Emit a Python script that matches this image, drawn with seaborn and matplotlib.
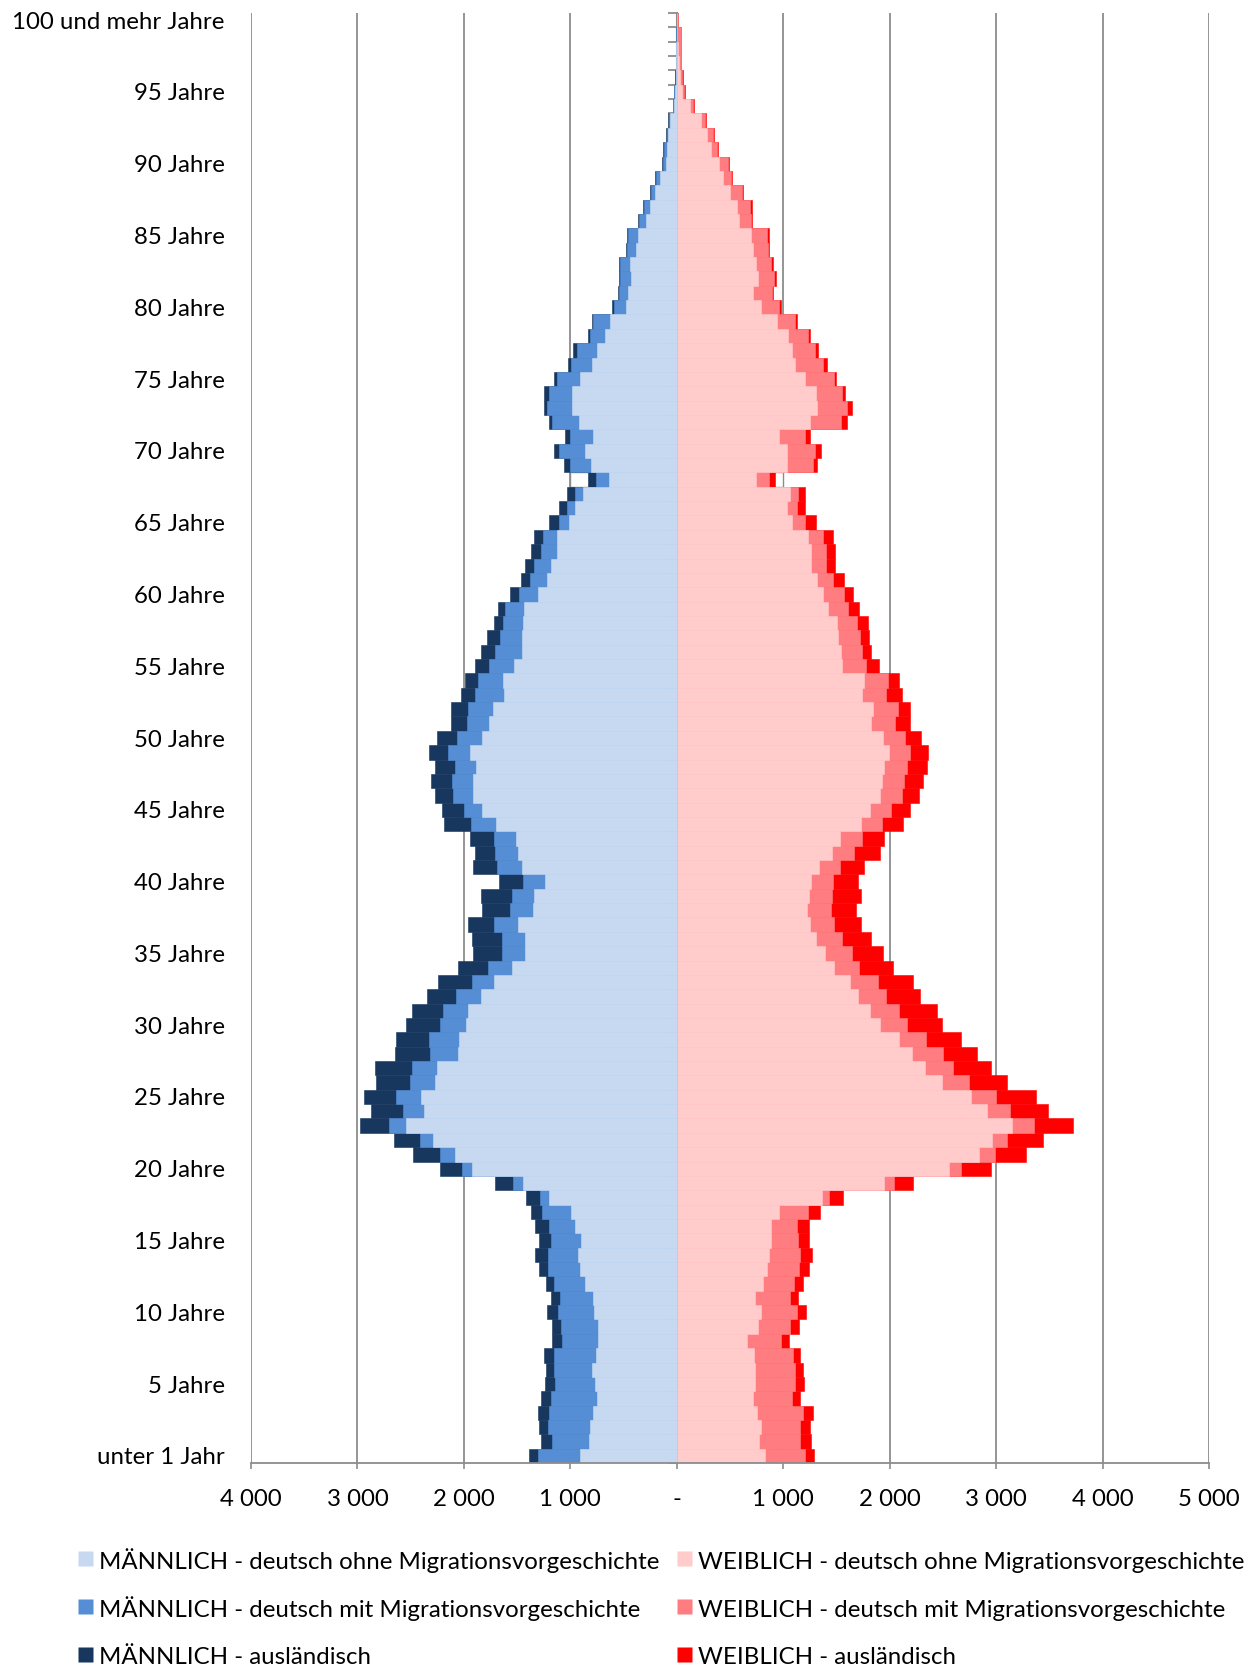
import numpy as np
import matplotlib
matplotlib.use("Agg")
import matplotlib.pyplot as plt
import seaborn as sns
from matplotlib.lines import Line2D

ages = np.arange(0, 101)

m_deutsch = [911, 825, 815, 788, 752, 770, 797, 761, 743, 743,
             779, 788, 866, 911, 929, 902, 957, 993, 1203, 1449,
             1927, 2087, 2292, 2547, 2378, 2405, 2268, 2251, 2053, 2044,
             1979, 1958, 1837, 1716, 1544, 1423, 1423, 1488, 1354, 1337,
             1236, 1450, 1488, 1509, 1697, 1827, 1911, 1911, 1882, 1940,
             1827, 1762, 1724, 1625, 1636, 1529, 1452, 1452, 1444, 1433,
             1303, 1218, 1180, 1121, 1128, 1017, 952, 884, 640, 808,
             859, 783, 923, 981, 988, 905, 798, 751, 677, 630,
             480, 459, 433, 443, 386, 366, 292, 255, 200, 156,
             103, 94, 78, 66, 25, 19, 10, 6, 4, 2, 1]
m_migration = [396, 350, 397, 415, 433, 374, 360, 396, 337, 346,
               337, 310, 291, 301, 283, 283, 246, 274, 82, 91,
               91, 141, 123, 159, 196, 237, 237, 241, 263, 280,
               250, 237, 233, 207, 228, 216, 216, 228, 209, 210,
               206, 235, 218, 205, 235, 176, 189, 197, 197, 206,
               235, 207, 234, 268, 230, 233, 253, 207, 188, 180,
               176, 161, 161, 151, 133, 93, 76, 75, 122, 191,
               251, 216, 252, 234, 209, 216, 198, 188, 141, 155,
               114, 81, 97, 90, 77, 90, 67, 57, 45, 41,
               22, 28, 16, 9, 9, 3, 2, 1, 1, 1, 0]
m_auslaender = [83, 101, 82, 105, 91, 95, 73, 91, 95, 86,
                105, 87, 73, 82, 123, 109, 132, 104, 132, 168,
                210, 250, 246, 274, 301, 301, 319, 341, 327, 311,
                311, 289, 276, 319, 281, 271, 284, 250, 264, 289,
                226, 226, 188, 226, 252, 201, 176, 197, 197, 180,
                189, 150, 161, 134, 123, 131, 134, 123, 84, 65,
                88, 85, 84, 101, 83, 94, 82, 69, 68, 65,
                40, 47, 29, 35, 46, 29, 23, 37, 17, 13,
                16, 13, 17, 7, 13, 13, 7, 7, 8, 10,
                10, 6, 6, 6, 4, 3, 1, 1, 0, 0, 0]

w_deutsch = [829, 770, 793, 752, 715, 733, 733, 724, 661, 761,
             793, 733, 811, 847, 866, 884, 884, 961, 1362, 1945,
             2556, 2838, 2961, 3148, 2916, 2765, 2492, 2333, 2212, 2087,
             1910, 1815, 1703, 1630, 1479, 1393, 1311, 1255, 1224, 1245,
             1262, 1337, 1459, 1534, 1731, 1815, 1911, 1928, 1949, 1995,
             1936, 1824, 1843, 1739, 1762, 1548, 1540, 1513, 1506, 1421,
             1372, 1318, 1261, 1265, 1236, 1085, 1038, 1060, 740, 1031,
             1031, 956, 1254, 1322, 1312, 1207, 1107, 1080, 1043, 939,
             788, 714, 761, 741, 714, 694, 584, 563, 502, 432,
             397, 322, 285, 228, 125, 53, 28, 19, 12, 5, 3]
w_migration = [374, 387, 364, 433, 365, 374, 374, 369, 318, 300,
               337, 328, 292, 301, 291, 255, 246, 269, 64, 96,
               114, 151, 142, 210, 214, 233, 251, 263, 289, 255,
               255, 272, 263, 263, 233, 254, 241, 224, 226, 214,
               205, 197, 205, 205, 197, 197, 206, 205, 214, 197,
               210, 226, 234, 230, 227, 234, 203, 207, 187, 192,
               199, 153, 141, 140, 133, 122, 87, 83, 130, 245,
               263, 244, 291, 281, 244, 266, 271, 214, 188, 168,
               168, 181, 148, 141, 144, 151, 117, 124, 113, 78,
               82, 57, 53, 38, 25, 19, 19, 22, 25, 30, 8]
w_auslaender = [86, 100, 91, 95, 77, 87, 78, 64, 73, 87,
                82, 78, 82, 91, 110, 100, 109, 114, 132, 178,
                282, 291, 337, 364, 360, 378, 357, 354, 319, 327,
                327, 358, 319, 328, 319, 294, 272, 254, 235, 272,
                235, 226, 247, 210, 197, 180, 159, 180, 188, 168,
                147, 145, 118, 150, 103, 122, 85, 88, 100, 103,
                88, 104, 88, 86, 101, 97, 75, 57, 57, 43,
                57, 54, 50, 39, 29, 25, 34, 31, 23, 26,
                20, 10, 20, 20, 11, 17, 10, 24, 11, 10,
                12, 9, 9, 9, 10, 6, 9, 3, 3, 2, 0]

# leere Stelle bei 68 Jahren (weiss, nur aussen grauer Strich)
gap_age = [68]
gap_m = [173]
gap_w = [72]

x_ticks = list(range(-4000, 5001, 1000))
age_labels = ["unter 1 Jahr"] + [f"{a} Jahre" for a in range(5, 100, 5)] + ["100 und mehr Jahre"]
legend_labels = ["MÄNNLICH - deutsch ohne Migrationsvorgeschichte",
                 "MÄNNLICH - deutsch mit Migrationsvorgeschichte",
                 "MÄNNLICH - ausländisch",
                 "WEIBLICH - deutsch ohne Migrationsvorgeschichte",
                 "WEIBLICH - deutsch mit Migrationsvorgeschichte",
                 "WEIBLICH - ausländisch"]
colors = ["#C6D9F1", "#558ED5", "#17375E", "#FFCBCB", "#FF7C80", "#FF0000"]

plt.rcParams["font.family"] = ["Lato", "DejaVu Sans"]
fs = 17.3

m1 = np.array(m_deutsch)
m2 = m1 + np.array(m_migration)
m3 = m2 + np.array(m_auslaender)
w1 = np.array(w_deutsch)
w2 = w1 + np.array(w_migration)
w3 = w2 + np.array(w_auslaender)

fig = plt.figure(figsize=(12.58, 16.70), dpi=100)
ax = fig.add_axes([251 / 1258, 1 - 1463 / 1670, (1209 - 251) / 1258, (1463 - 13) / 1670])

gray = "#8C8C8C"

# Luecke bei 68 zuerst, Nachbarbalken ueberdecken die waagrechten Raender
m3_gap = m3[np.array(gap_age)] + np.array(gap_m)
w3_gap = w3[np.array(gap_age)] + np.array(gap_w)
sns.barplot(x=-m3_gap, y=gap_age, orient="h", native_scale=True, color="white",
            saturation=1, width=1.04, errorbar=None, edgecolor=gray, linewidth=1.0, ax=ax)
sns.barplot(x=w3_gap, y=gap_age, orient="h", native_scale=True, color="white",
            saturation=1, width=1.04, errorbar=None, edgecolor=gray, linewidth=1.0, ax=ax)

layers = [(-m3, colors[2]), (-m2, colors[1]), (-m1, colors[0]),
          (w3, colors[5]), (w2, colors[4]), (w1, colors[3])]
for vals, col in layers:
    sns.barplot(x=vals, y=ages, orient="h", native_scale=True, color=col,
                saturation=1, width=1, errorbar=None, edgecolor=col,
                linewidth=0.4, ax=ax)

ax.set_xlim(-4000, 5000)
ax.set_ylim(-0.5, 100.5)
ax.set_xlabel("")
ax.set_ylabel("")

ax.set_xticks(x_ticks)
ax.set_xticklabels([f"{abs(v):,}".replace(",", " ") if v else "-" for v in x_ticks])
ax.set_yticks(list(range(0, 101, 5)))
ax.set_yticklabels(age_labels)
ax.tick_params(axis="y", length=0, pad=19, labelsize=fs)
ax.tick_params(axis="x", length=4.5, width=1.2, color=gray, pad=14, labelsize=fs)

ax.grid(axis="x", color=gray, linewidth=1.3)
ax.grid(axis="y", visible=False)
ax.set_axisbelow(True)
for s in ["top", "right", "left"]:
    ax.spines[s].set_visible(False)
ax.spines["bottom"].set_color(gray)
ax.spines["bottom"].set_linewidth(1.3)

# senkrechte Mittelachse mit Teilstrichen je Jahrgang
sec = ax.secondary_yaxis(4 / 9)
sec.set_yticks(np.arange(-0.5, 101, 1))
sec.tick_params(axis="y", length=6.5, width=1.3, color=gray, labelleft=False, labelright=False)
for s in sec.spines.values():
    s.set_color(gray)
    s.set_linewidth(1.5)

# quadratische Marker, feste Zeilenhoehe ueber handleheight
handles = [Line2D([], [], marker="s", markersize=10.8, linestyle="none",
                  markerfacecolor=c, markeredgecolor="none") for c in colors]
fig.legend(handles, legend_labels, ncol=2, loc="upper left",
           bbox_to_anchor=(77 / 1258, 1 - 1548 / 1670), frameon=False,
           fontsize=fs, handlelength=0.625, handleheight=1.25, handletextpad=0.29,
           labelspacing=0.93, columnspacing=0.7, borderpad=0, borderaxespad=0)

fig.savefig("out.png", dpi=100)
